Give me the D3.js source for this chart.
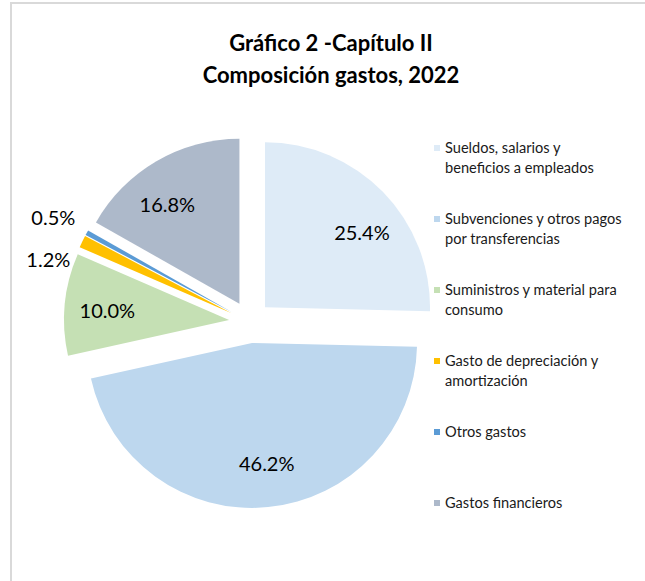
<!DOCTYPE html>
<html>
<head>
<meta charset="utf-8">
<script src="https://cdn.jsdelivr.net/npm/d3@7"></script>
<style>
  body { margin: 0; background: #fff; }
  svg { display: block; font-family: Lato, "Open Sans", sans-serif; }
</style>
</head>
<body>
<svg id="chart" width="645" height="581"></svg>
<script>
// chart data
var categories = [
  "Sueldos, salarios y beneficios a empleados",
  "Subvenciones y otros pagos por transferencias",
  "Suministros y material para consumo",
  "Gasto de depreciación y amortización",
  "Otros gastos",
  "Gastos financieros"
];
var values = [25.4, 46.2, 10.0, 1.2, 0.5, 16.8];
var legendLines = [
  ["Sueldos, salarios y", "beneficios a empleados"],
  ["Subvenciones y otros pagos", "por transferencias"],
  ["Suministros y material para", "consumo"],
  ["Gasto de depreciación y", "amortización"],
  ["Otros gastos"],
  ["Gastos financieros"]
];
var colors = ["#deebf7", "#bdd7ee", "#c5e0b4", "#ffc000", "#5b9bd5", "#adb9ca"];
var titleLines = ["Gráfico 2 -Capítulo II", "Composición gastos, 2022"];

var svg = d3.select("#chart");
var cx = 250, cy = 322, radius = 165, explode = 21;

// chart frame (cropped on right/bottom)
svg.append("rect")
  .attr("x", 11).attr("y", 3)
  .attr("width", 700).attr("height", 700)
  .attr("fill", "none")
  .attr("stroke", "#d9d9d9")
  .attr("stroke-width", 2);

// title
svg.selectAll(".title")
  .data(titleLines)
  .enter()
  .append("text")
    .attr("class", "title")
    .attr("x", 331)
    .attr("y", function(d, i) {return 51 + i*32;})
    .attr("text-anchor", "middle")
    .style("font-size", "22px")
    .style("font-weight", "bold")
    .style("fill", "#000")
    .text(function(d) {return d;});

var data = categories.map(function(c, i) {return {key: c, value: values[i], color: colors[i]};});

var pie = d3.pie()
  .sort(null)
  .value(function(d) {return d.value;});

var arc = d3.arc().innerRadius(0).outerRadius(radius);

var arcs = pie(data);

function offset(d, dist, turn) {
  var mid = (d.startAngle + d.endAngle) / 2 + (turn || 0);
  return [Math.sin(mid) * dist, -Math.cos(mid) * dist];
}

var g = svg.append("g").attr("transform", "translate(" + cx + "," + cy + ")");

g.selectAll(".slice")
  .data(arcs)
  .enter()
  .append("path")
    .attr("class", "slice")
    .attr("d", arc)
    .attr("fill", function(d) {return d.data.color;})
    .attr("transform", function(d) {
      var o = offset(d, explode);
      return "translate(" + o[0] + "," + o[1] + ")";
    });

// labels: inside for big slices, outside for tiny ones
// big slices lean a little toward the pie's horizontal middle, like Excel's best fit
var labels = arcs.map(function(d) {
  var inside = d.data.value >= 5;
  var mid = (d.startAngle + d.endAngle) / 2;
  var turn = inside ? 0.12 * Math.sin(2 * mid) : 0;
  var s = offset(d, explode);
  var o = inside ? offset(d, radius * 0.74, turn) : offset(d, radius + 20);
  return {text: d3.format(".1f")(d.data.value) + "%", x: s[0] + o[0], y: s[1] + o[1], inside: inside};
});

// push overlapping outside labels apart vertically
var outside = labels.filter(function(l) {return !l.inside;}).sort(function(a, b) {return a.y - b.y;});
outside[0].y -= 5;
for (var i = 1; i < outside.length; i++) {
  if (outside[i].y - outside[i-1].y < 42) outside[i].y = outside[i-1].y + 42;
}

g.selectAll(".pct")
  .data(labels)
  .enter()
  .append("text")
    .attr("class", "pct")
    .attr("x", function(d) {return d.inside ? d.x : d.x + 6;})
    .attr("y", function(d) {return d.y;})
    .attr("dy", "0.35em")
    .attr("text-anchor", function(d) {return d.inside ? "middle" : "end";})
    .style("font-size", "20px")
    .style("fill", "#000")
    .text(function(d) {return d.text;});

// legend
var legend = svg.selectAll(".legend")
  .data(data)
  .enter()
  .append("g")
    .attr("class", "legend")
    .attr("transform", function(d, i) {return "translate(434," + (148 + i*71) + ")";});

legend.append("rect")
  .attr("x", 0).attr("y", -3)
  .attr("width", 6).attr("height", 6)
  .attr("fill", function(d) {return d.color;});

legend.append("text")
  .attr("x", 11)
  .attr("y", 0)
  .style("font-size", "14.6px")
  .style("fill", "#1a1a1a")
  .each(function(d, i) {
    var t = d3.select(this);
    legendLines[i].forEach(function(line, j) {
      t.append("tspan")
        .attr("x", 11)
        .attr("y", j*20)
        .attr("dy", "0.35em")
        .text(line);
    });
  });
</script>
</body>
</html>
